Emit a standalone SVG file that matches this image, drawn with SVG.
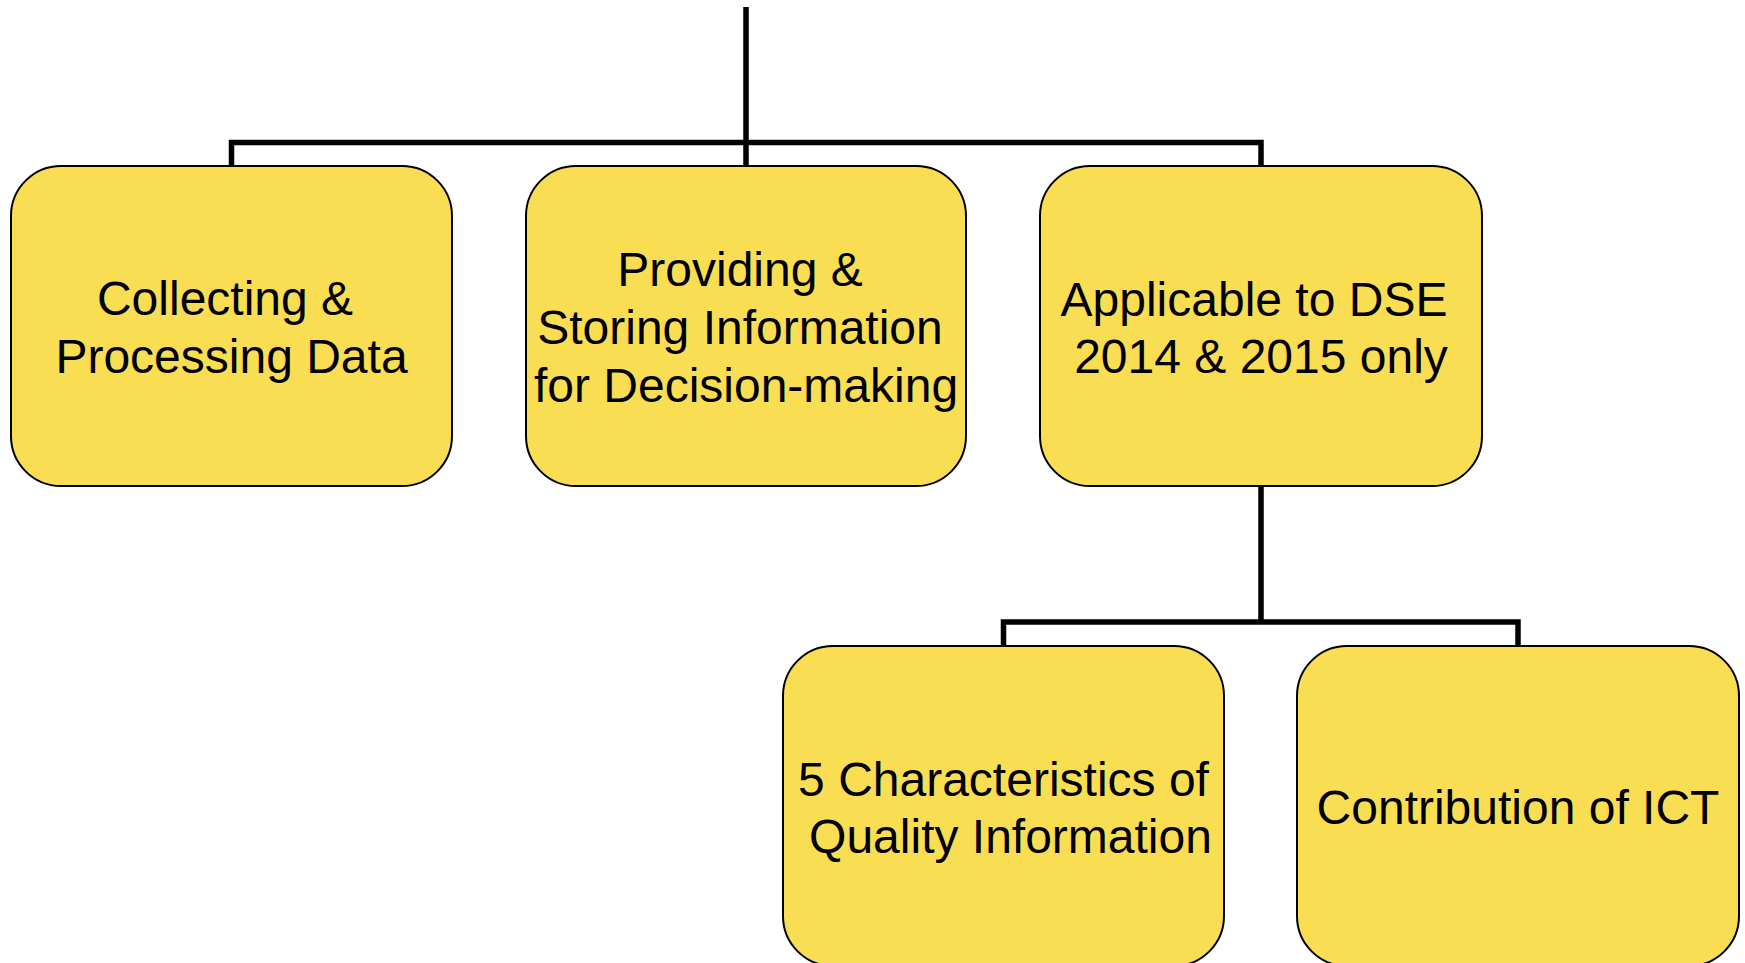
<svg xmlns="http://www.w3.org/2000/svg" width="1745" height="963" viewBox="0 0 1745 963">
<style>
.box{fill:#F9DE53;stroke:#000;stroke-width:2}
.lbl{font-family:"Liberation Sans",Arial,sans-serif;font-size:48px;fill:#000;text-anchor:middle}
.conn{fill:none;stroke:#000;stroke-width:5.5;stroke-linejoin:miter;stroke-linecap:butt}
</style>
<rect width="1745" height="963" fill="#fff"/>
<g id="connectors">
<path class="conn" d="M746,7 V166"/>
<path class="conn" d="M231.5,166 V142.5 H1261 V166"/>
<path class="conn" d="M1261,486 V622"/>
<path class="conn" d="M1003.5,646 V622 H1518 V646"/>
</g>
<g id="node-collecting">
<rect class="box" x="11" y="166" width="441" height="320" rx="50" ry="50"/>
<text class="lbl"><tspan x="225" y="315">Collecting &amp;</tspan><tspan x="231.5" y="373">Processing Data</tspan></text>
</g>
<g id="node-providing">
<rect class="box" x="526" y="166" width="440" height="320" rx="50" ry="50"/>
<text class="lbl"><tspan x="740" y="286">Providing &amp;</tspan><tspan x="740" y="344">Storing Information</tspan><tspan x="746" y="402">for Decision-making</tspan></text>
</g>
<g id="node-applicable">
<rect class="box" x="1040" y="166" width="442" height="320" rx="50" ry="50"/>
<text class="lbl"><tspan x="1254" y="316">Applicable to DSE</tspan><tspan x="1261" y="373">2014 &amp; 2015 only</tspan></text>
</g>
<g id="node-characteristics">
<rect class="box" x="783" y="646" width="441" height="320" rx="50" ry="50"/>
<text class="lbl"><tspan x="1003.5" y="796">5 Characteristics of</tspan><tspan x="1010.5" y="853">Quality Information</tspan></text>
</g>
<g id="node-contribution">
<rect class="box" x="1297" y="646" width="442" height="320" rx="50" ry="50"/>
<text class="lbl"><tspan x="1518" y="824">Contribution of ICT</tspan></text>
</g>
</svg>
